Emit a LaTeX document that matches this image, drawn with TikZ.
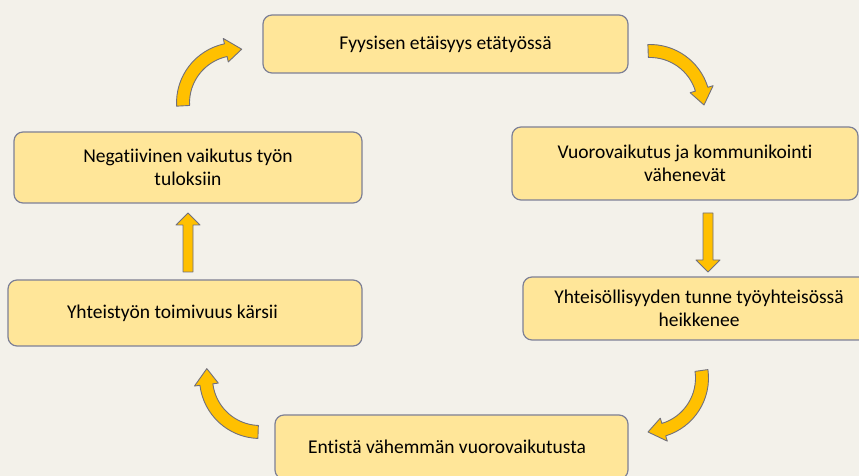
\documentclass[tikz,border=0pt]{standalone}
\usepackage{fontspec}
\setmainfont{Carlito}[Ligatures=NoCommon]
\usepackage{xcolor}
\usepackage{tikz}
\usetikzlibrary{calc}
\definecolor{paper}{RGB}{243,241,234}
\definecolor{boxfill}{RGB}{255,230,153}
\definecolor{boxline}{RGB}{125,128,150}
\definecolor{arrowgold}{RGB}{255,192,0}
\definecolor{arrowline}{RGB}{112,112,125}
\tikzset{
  stage/.style={
    draw=boxline,
    fill=boxfill,
    line width=1.2pt,
    rounded corners=9pt,
    align=center,
    font=\fontsize{19.5}{23.5}\selectfont
  },
  goldarrow/.style={
    fill=arrowgold,
    draw=arrowline,
    line width=0.9pt,
    line join=round
  }
}
% bent block arrow: centre, radius, from angle, to angle (tip)
\newcommand{\bentarrow}[4]{%
  \pgfmathsetmacro{\hb}{#4 - sign(#4 - #3)*17}%
  \draw[goldarrow, shift={#1}]
    ({#3}:{#2+6.5}) arc[start angle=#3, end angle=\hb, radius=#2+6.5]
    -- ({\hb}:{#2+12}) -- ({#4}:{#2}) -- ({\hb}:{#2-12})
    -- ({\hb}:{#2-6.5}) arc[start angle=\hb, end angle=#3, radius=#2-6.5]
    -- cycle;}

\begin{document}
\begin{tikzpicture}[x=1pt, y=1pt]
  \useasboundingbox[fill=paper] (0,0) rectangle (859,476);
  \clip (0,0) rectangle (859,476);

  \node[stage, minimum width=365pt, minimum height=58pt] (fyys) at (445.5,432) {Fyysisen etäisyys etätyössä};
  \node[stage, minimum width=346pt, minimum height=73pt] (vuoro) at (685,312.5) {Vuorovaikutus ja kommunikointi\\vähenevät};
  \node[stage, minimum width=352pt, minimum height=63pt] (yhteis) at (699,167.5) {Yhteisöllisyyden tunne työyhteisössä\\heikkenee};
  \node[stage, minimum height=64pt, inner xsep=33pt, text width=287pt, align=flush left] (entista) at (451.5,29) {Entistä vähemmän vuorovaikutusta};
  \node[stage, minimum height=66pt, inner xsep=59pt, text width=236pt, align=flush left] (kars) at (185,163) {Yhteistyön toimivuus kärsii};
  \node[stage, minimum width=348pt, minimum height=71pt] (neg) at (188,308.5) {Negatiivinen vaikutus työn\\tuloksiin};

  % curved arrows round the cycle
  \bentarrow{(237,373)}{54}{183}{85}
  \bentarrow{(650,371)}{54}{92}{0}
  \bentarrow{(648,98)}{54}{8}{-90}
  \bentarrow{(260,98)}{54}{268}{170}

  % straight arrows
  \draw[goldarrow] (703,263) -- (713,263) -- (713,216) -- (720,216)
    -- (708,204) -- (696,216) -- (703,216) -- cycle;
  \draw[goldarrow] (183,204) -- (193,204) -- (193,251) -- (200,251)
    -- (188,263) -- (176,251) -- (183,251) -- cycle;
\end{tikzpicture}
\end{document}
